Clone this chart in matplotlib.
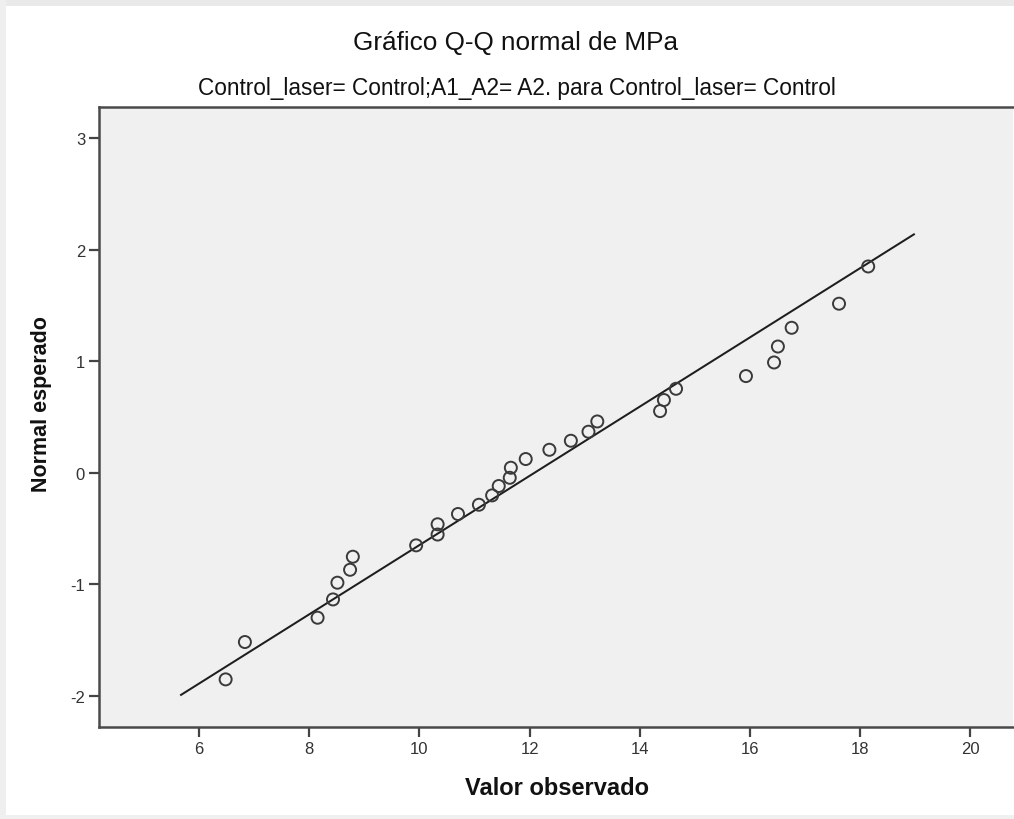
import matplotlib
matplotlib.use("Agg")
import matplotlib.pyplot as plt
from matplotlib.patches import Rectangle

# valores observados (MPa) y cuantiles normales esperados
observado = [6.48, 6.83, 8.15, 8.43, 8.51, 8.74, 8.79, 9.94, 10.33, 10.33,
             10.70, 11.08, 11.32, 11.44, 11.64, 11.66, 11.93, 12.36, 12.75, 13.07,
             13.23, 14.37, 14.44, 14.66, 15.93, 16.44, 16.51, 16.76, 17.62, 18.15]
esperado = [-1.853, -1.518, -1.300, -1.136, -0.986, -0.870, -0.753, -0.651, -0.554, -0.462,
            -0.370, -0.287, -0.203, -0.119, -0.045, 0.045, 0.123, 0.206, 0.287, 0.368,
            0.460, 0.553, 0.652, 0.753, 0.867, 0.989, 1.132, 1.300, 1.516, 1.850]

# recta de referencia: (x - media) / desv
media = 12.09
desv = 3.223
recta_x = [5.67, 18.98]

x_ticks = [6, 8, 10, 12, 14, 16, 18, 20]
y_ticks = [-2, -1, 0, 1, 2, 3]

titulo = "Gráfico Q-Q normal de MPa"
subtitulo = "Control_laser= Control;A1_A2= A2. para Control_laser= Control"

plt.rcParams["font.family"] = ["Liberation Sans", "DejaVu Sans"]

W, H = 1014, 820
fig = plt.figure(figsize=(W / 100, H / 100), dpi=100, facecolor="white")

# marco gris de la ventana
fig.add_artist(Rectangle((0, 1 - 7 / H), 1, 7 / H, transform=fig.transFigure,
                         facecolor="#e9e9e9", edgecolor="none", zorder=0))
fig.add_artist(Rectangle((0, 0), 6 / W, 1, transform=fig.transFigure,
                         facecolor="#efefef", edgecolor="none", zorder=0))
fig.add_artist(Rectangle((0, 0), 1, 4 / H, transform=fig.transFigure,
                         facecolor="#f0f0f0", edgecolor="none", zorder=0))

left, right, top, bottom = 99, 1013, 108, 728
ax = fig.add_axes([left / W, 1 - bottom / H, (right - left) / W, (bottom - top) / H])
ax.set_facecolor("#f0f0f0")

ax.scatter(observado, esperado, s=75, facecolors="none", edgecolors="#3a3a3a",
           linewidths=1.4, zorder=3)
recta_y = [(v - media) / desv for v in recta_x]
ax.plot(recta_x, recta_y, color="#1e1e1e", lw=1.45, zorder=2)

ax.set_xlim(4.18, 20.78)
ax.set_ylim(-2.28, 3.28)
ax.set_xticks(x_ticks)
ax.set_yticks(y_ticks)
ax.set_xticklabels([str(t) for t in x_ticks])
ax.set_yticklabels([str(t) for t in y_ticks])
ax.tick_params(direction="out", length=7, width=1.6, color="#444444",
               labelsize=12, labelcolor="#333333", pad=3)

for side in ["left", "bottom", "top"]:
    ax.spines[side].set_color("#4a4a4a")
    ax.spines[side].set_linewidth(1.8)
ax.spines["right"].set_visible(False)

fig.text(516 / W, 1 - 43 / H, titulo, ha="center", va="center",
         fontsize=18.8, color="#111111")
fig.text(517 / W, 1 - 89 / H, subtitulo, ha="center", va="center",
         fontsize=16.3, color="#111111")
fig.text(557 / W, 1 - 789 / H, "Valor observado", ha="center", va="center",
         fontsize=17, fontweight="bold", color="#111111")
fig.text(42 / W, 1 - 404 / H, "Normal esperado", ha="center", va="center",
         rotation=90, fontsize=15.5, fontweight="bold", color="#111111")

fig.savefig("out.png", dpi=100, facecolor="white")
